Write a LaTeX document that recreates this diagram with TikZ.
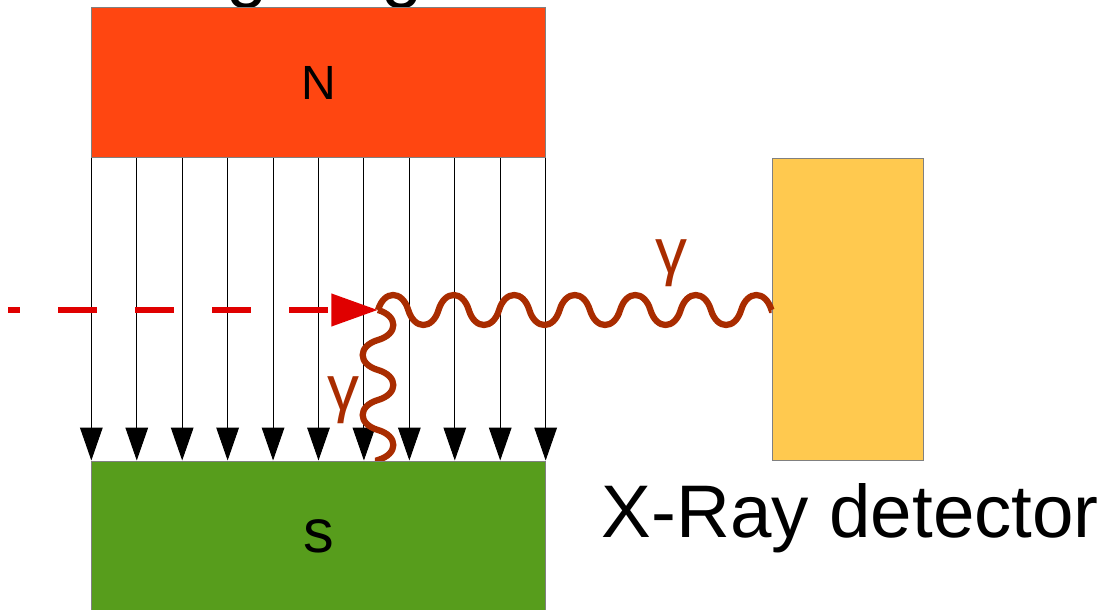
\documentclass[tikz,border=0pt]{standalone}
\usepackage{fontspec}
\setmainfont{Liberation Sans}
\usetikzlibrary{arrows.meta,calc,decorations.pathmorphing}
\definecolor{northc}{HTML}{FF4611}
\definecolor{southc}{HTML}{579D1C}
\definecolor{detc}{HTML}{FFC94F}
\definecolor{beamc}{HTML}{E00000}
\definecolor{wavec}{HTML}{A92C00}
\definecolor{edgec}{HTML}{808080}
\pgfdeclaredecoration{halfwave}{up}{
  \state{up}[width=\pgfdecorationsegmentlength,next state=down]{
    \pgfpathcurveto
      {\pgfpoint{0.2*\pgfdecorationsegmentlength}{1.333*\pgfdecorationsegmentamplitude}}
      {\pgfpoint{0.8*\pgfdecorationsegmentlength}{1.333*\pgfdecorationsegmentamplitude}}
      {\pgfpoint{\pgfdecorationsegmentlength}{0pt}}
  }
  \state{down}[width=\pgfdecorationsegmentlength,next state=up]{
    \pgfpathcurveto
      {\pgfpoint{0.2*\pgfdecorationsegmentlength}{-1.333*\pgfdecorationsegmentamplitude}}
      {\pgfpoint{0.8*\pgfdecorationsegmentlength}{-1.333*\pgfdecorationsegmentamplitude}}
      {\pgfpoint{\pgfdecorationsegmentlength}{0pt}}
  }
  \state{final}{\pgfpathlineto{\pgfpointdecoratedpathlast}}
}
\tikzset{
  x=0.75pt,y=-0.75pt,
  magnet/.style={draw=edgec,line width=0.75pt,minimum width=340pt,minimum height=112.5pt,inner sep=0pt,font=\fontsize{36}{40}\selectfont},
  field/.style={draw=black,line width=0.75pt,-{Triangle[length=24.75pt,width=17pt]}},
  beam/.style={draw=beamc,fill=none,line width=4.7pt,dash pattern=on 29pt off 28.8pt,dash phase=20.3pt,-{Triangle[length=35pt,width=23.5pt,fill=beamc]}},
  wave/.style={draw=wavec,line width=4.7pt,line cap=butt,decorate,decoration={halfwave,segment length=#1}},
  gamma/.style={text=wavec,font=\fontsize{48}{52}\selectfont,inner sep=0pt},
  bigtext/.style={font=\fontsize{55.9}{60}\selectfont,inner sep=0pt,text=black}
}
\begin{document}
\begin{tikzpicture}
\useasboundingbox (0,0) rectangle (1115,610);
\node[bigtext,anchor=base] (g1) at (247,-6) {g};
\node[bigtext,anchor=base] (g2) at (402,-6) {g};
\node[magnet,fill=northc] (N) at (318.5,82.5) {N};
\node[draw=edgec,line width=0.75pt,fill=detc,minimum width=113.5pt,minimum height=226.5pt,inner sep=0pt] (det) at (847.75,309.75) {};
\coordinate (hit) at (378,310);
\coordinate (beamstart) at (8,310);
\coordinate (S-top) at (318.5,460.5);
\foreach \i in {0,...,10}{
  \coordinate (top\i) at ($(N.south west)!\i/10!(N.south east)$);
  \coordinate (bot\i) at (top\i |- S-top);
  \draw[field] (top\i) -- (bot\i);
}
\draw[beam] (beamstart) -- (hit);
\draw[wave={22.7pt},decoration={amplitude=11.25pt}] (hit) -- (hit -| det.west);
\draw[wave={22.5pt},decoration={amplitude=11.5pt}] (hit) -- ($(hit |- S-top)+(0,3)$);
\node[magnet,fill=southc,anchor=north] (S) at (S-top) {\fontsize{46}{50}\selectfont s};
\node[gamma] (g-a) at (671,263) {γ};
\node[gamma] (g-b) at (343,400) {γ};
\node[bigtext,anchor=base west] (lbl) at (601.5,537) {X-Ray detector};
\end{tikzpicture}
\end{document}
